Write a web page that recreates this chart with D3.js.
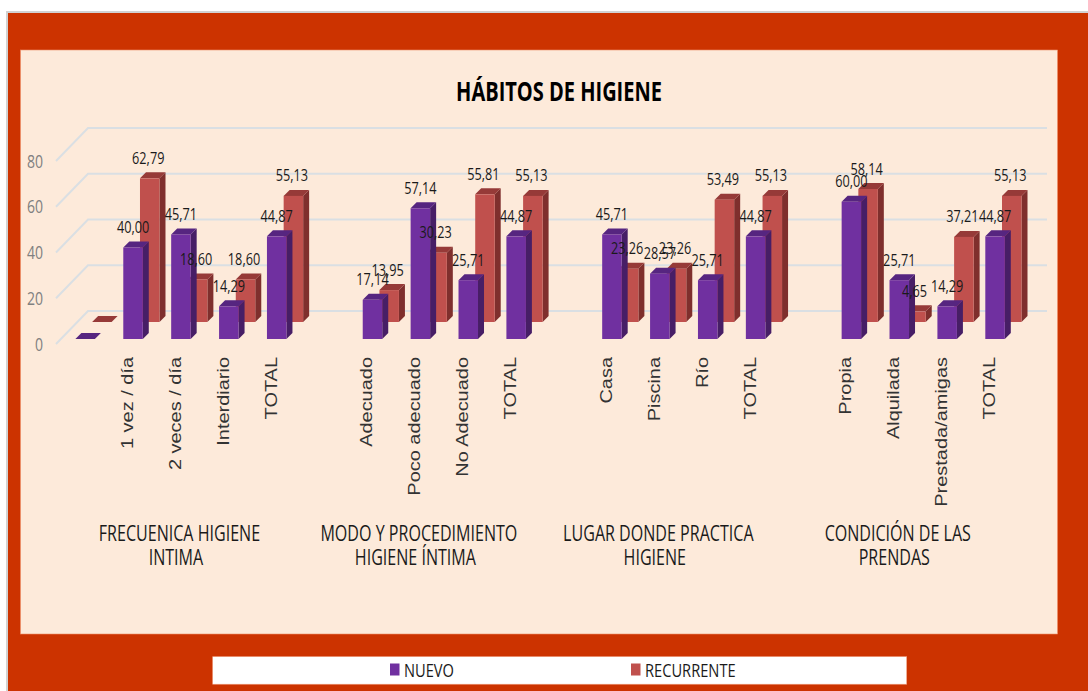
<!DOCTYPE html>
<html><head><meta charset="utf-8">
<script src="https://cdn.jsdelivr.net/npm/d3@7/dist/d3.min.js"></script>
<style>html,body{margin:0;padding:0;background:#fff}svg{display:block}
text{font-family:"Open Sans",sans-serif}</style></head>
<body><script>
const categories = ["", "1 vez / día", "2 veces / día", "Interdiario", "TOTAL",
  " ", "Adecuado", "Poco adecuado", "No Adecuado", "TOTAL ",
  "  ", "Casa", "Piscina", "Río", "TOTAL  ",
  "   ", "Propia", "Alquilada", "Prestada/amigas", "TOTAL   "];
const nuevo = [0, 40.00, 45.71, 14.29, 44.87, null, 17.14, 57.14, 25.71, 44.87, null, 45.71, 28.57, 25.71, 44.87, null, 60.00, 25.71, 14.29, 44.87];
const recurrente = [0, 62.79, 18.60, 18.60, 55.13, null, 13.95, 30.23, 55.81, 55.13, null, 23.26, 23.26, 53.49, 55.13, null, 58.14, 4.65, 37.21, 55.13];
const groups = [["FRECUENICA HIGIENE", "INTIMA"], ["MODO Y PROCEDIMIENTO", "HIGIENE ÍNTIMA"], ["LUGAR DONDE PRACTICA", "HIGIENE"], ["CONDICIÓN DE LAS", "PRENDAS"]];
const groupCentres = [2, 7, 12, 17];
const yTicks = [0, 20, 40, 60, 80];
const title = "HÁBITOS DE HIGIENE";

const W = 1088, H = 691;
const svg = d3.select("body").append("svg").attr("width", W).attr("height", H);
svg.append("rect").attr("x", 6).attr("y", 11).attr("width", 1082).attr("height", 680).attr("fill", "#d2d2d2");
svg.append("rect").attr("x", 8).attr("y", 13).attr("width", 1080).attr("height", 678).attr("fill", "#CC3300");
svg.append("rect").attr("x", 20.5).attr("y", 50).attr("width", 1037).attr("height", 584).attr("fill", "#FDEADA").attr("stroke", "#EE8F6A").attr("stroke-width", 0.6);

function narrow(px, py, sx, size, fill, anchor, str) {
  return svg.append("text").attr("transform", `translate(${px},${py}) scale(${sx},1)`)
    .attr("text-anchor", anchor).attr("font-size", size).attr("fill", fill).text(str);
}

const x = d3.scaleBand().domain(categories).range([61.2, 1019]).padding(0);
const y = d3.scaleLinear().domain([0, 80]).range([344, 161]);
const wallDx = 32, wallDy = -33;
const series = [
  {name: "RECURRENTE", vals: recurrente, dx: 16.7, dy: -22, labelDx: 15.2, front: "#C0504D", side: "#7F2F2D", top: "#963A38"},
  {name: "NUEVO", vals: nuevo, dx: 0, dy: -5, labelDx: 0, front: "#7030A0", side: "#471E66", top: "#562580"}
];
const barW = 19.5, d = 6;

yTicks.forEach(t => {
  const py = y(t);
  svg.append("path").attr("fill", "none").attr("stroke", "#DADFE3").attr("stroke-width", 2)
    .attr("d", d3.line()([[56, py], [56 + wallDx, py + wallDy], [1047, py + wallDy]]));
  narrow(43, py + 6.5, 0.78, 18, "#808080", "end", t);
});

const line = d3.line();
series.forEach(s => {
  const ok = categories.map((c, i) => ({c, v: s.vals[i], i})).filter(e => e.v !== null);
  const bars = svg.append("g").selectAll("g").data(ok).join("g");
  bars.each(function(e) {
    const sel = d3.select(this);
    const x0 = x(e.c) + (x.bandwidth() - barW) / 2 + s.dx;
    const base = y(0) + s.dy;
    const top = y(e.v) + s.dy;
    sel.append("path").attr("fill", s.side).attr("d", line([[x0 + barW, base], [x0 + barW + d, base - d], [x0 + barW + d, top - d], [x0 + barW, top]]) + "Z");
    sel.append("path").attr("fill", s.top).attr("d", line([[x0, top], [x0 + d, top - d], [x0 + barW + d, top - d], [x0 + barW, top]]) + "Z");
    if (e.v > 0) sel.append("rect").attr("x", x0).attr("y", top).attr("width", barW).attr("height", base - top).attr("fill", s.front);
  });
});

series.forEach(s => {
  categories.forEach((c, i) => {
    const v = s.vals[i];
    if (v === null || v === 0) return;
    const cx = x(c) + x.bandwidth() / 2 + s.labelDx;
    narrow(cx, y(v) + s.dy - 14.5, 0.82, 15.5, "#1a1a1a", "middle", d3.format(".2f")(v).replace(".", ","));
  });
});

categories.forEach(c => {
  if (!c.trim()) return;
  const cx = x(c) + x.bandwidth() / 2;
  svg.append("text").attr("transform", `translate(${cx},357) rotate(-90) scale(1.21,1)`).attr("text-anchor", "end")
    .style("font-family", "'Liberation Sans',sans-serif").attr("font-size", 16.5).attr("fill", "#333").text(c.trim());
});

groups.forEach((lines, k) => {
  const c = categories[groupCentres[k]];
  const cx = x(c) + x.bandwidth() / 2;
  lines.forEach((t, j) => narrow(cx + (j ? -5 : -1.5), 541 + j * 24, 0.765, 21, "#1a1a1a", "middle", t));
});

narrow(559, 101, 0.77, 26, "#000", "middle", title).attr("font-weight", "bold");

svg.append("rect").attr("x", 212.7).attr("y", 656.7).attr("width", 694).attr("height", 27.5).attr("fill", "#fff").attr("stroke", "#F0A080").attr("stroke-width", 0.6);
[[390, "NUEVO", "#7030A0"], [631, "RECURRENTE", "#C0504D"]].forEach(([lx, t, col]) => {
  svg.append("rect").attr("x", lx).attr("y", 663.5).attr("width", 9.5).attr("height", 12).attr("fill", col);
  narrow(lx + 14, 677, 0.815, 18, "#1a1a1a", "start", t);
});
</script></body></html>
